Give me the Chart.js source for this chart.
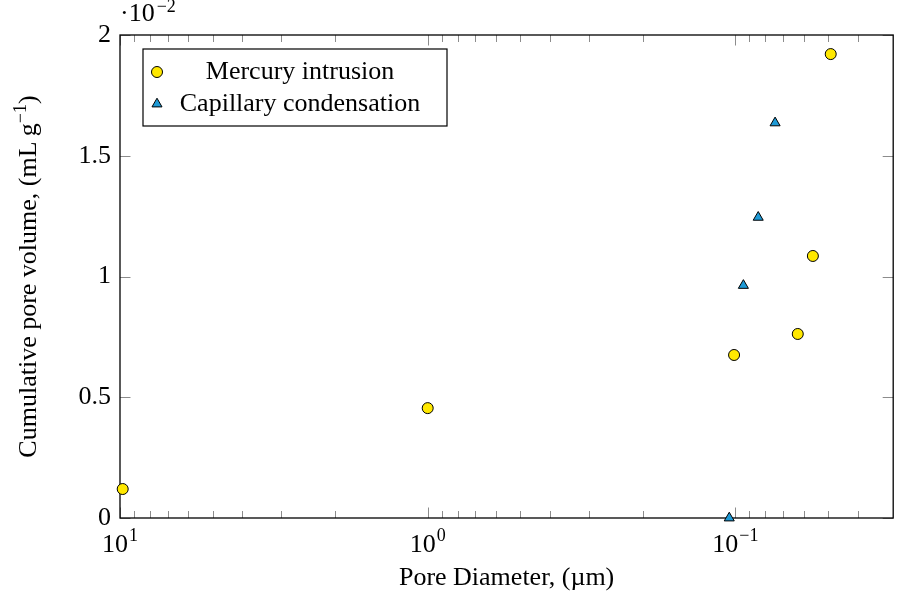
<!DOCTYPE html>
<html>
<head>
<meta charset="utf-8">
<script src="https://cdn.jsdelivr.net/npm/chart.js@4.4.0/dist/chart.umd.min.js"></script>
<style>
  body { margin: 0; background: #fff; }
  #wrap { width: 900px; height: 599px; }
</style>
</head>
<body>
<div id="wrap"><canvas id="myChart"></canvas></div>
<script>
// pore diameter in µm, cumulative pore volume in units of 1e-2 mL/g
const mercuryDiameter = [9.8, 1.0, 0.101, 0.0627, 0.056, 0.049];
const mercuryVolume = [0.12, 0.455, 0.675, 0.762, 1.085, 1.921];
const capillaryDiameter = [0.1047, 0.0942, 0.0843, 0.0743];
const capillaryVolume = [0.0, 0.963, 1.245, 1.636];

const xMajorTicks = [10, 1, 0.1];            // shown as 10^1, 10^0, 10^-1
const xMajorExponents = ['1', '0', '\u22121'];
const yTicks = [0, 0.5, 1, 1.5, 2];
const yScaleNote = '\u22122';                 // the ·10^-2 factor
const xTitle = 'Pore Diameter, (\u00b5m)';

const X_MIN = 0.0307, X_MAX = 10;
const FONT = '"Liberation Serif", "Times New Roman", serif';

// minor ticks 2..9 in each decade inside the axis range
const xMinorTicks = [];
[1, 0.1, 0.01].forEach(dec => {
    for (let m = 2; m <= 9; m++) {
        const v = m * dec;
        if (v >= X_MIN && v <= X_MAX) xMinorTicks.push(v);
    }
});

const axisDecor = {
    id: 'axisDecor',
    beforeDatasetsDraw(chart) {
        const {ctx, chartArea: a, scales: {x, y}} = chart;
        ctx.save();
        ctx.strokeStyle = '#8c8c8c';
        ctx.lineWidth = 1;
        const vTick = (v, len) => {
            const px = Math.round(x.getPixelForValue(v)) + 0.5;
            ctx.beginPath();
            ctx.moveTo(px, a.bottom); ctx.lineTo(px, a.bottom - len);
            ctx.moveTo(px, a.top); ctx.lineTo(px, a.top + len);
            ctx.stroke();
        };
        xMinorTicks.forEach(v => vTick(v, 7));
        xMajorTicks.forEach(v => vTick(v, 10.5));
        yTicks.forEach(v => {
            const py = Math.round(y.getPixelForValue(v)) + 0.5;
            ctx.beginPath();
            ctx.moveTo(a.left, py); ctx.lineTo(a.left + 10.5, py);
            ctx.moveTo(a.right, py); ctx.lineTo(a.right - 10.5, py);
            ctx.stroke();
        });
        // axis frame
        ctx.strokeStyle = '#000';
        ctx.lineWidth = 1.3;
        ctx.strokeRect(a.left, a.top, a.right - a.left, a.bottom - a.top);
        ctx.restore();
    },
    afterDraw(chart) {
        const {ctx, chartArea: a, scales: {x}} = chart;
        ctx.save();
        ctx.fillStyle = '#000';
        ctx.textBaseline = 'alphabetic';
        ctx.textAlign = 'left';

        // x tick labels 10^n
        xMajorTicks.forEach((v, i) => {
            const px = x.getPixelForValue(v);
            ctx.font = '26px ' + FONT;
            const wb = ctx.measureText('10').width;
            ctx.font = '18px ' + FONT;
            const ws = ctx.measureText(xMajorExponents[i]).width;
            const x0 = px - (wb + ws + 1) / 2;
            ctx.font = '26px ' + FONT;
            ctx.fillText('10', x0, a.bottom + 34);
            ctx.font = '18px ' + FONT;
            ctx.fillText(xMajorExponents[i], x0 + wb + 1, a.bottom + 23);
        });

        // x axis title
        ctx.font = '26px ' + FONT;
        ctx.textAlign = 'center';
        ctx.fillText(xTitle, (a.left + a.right) / 2, a.bottom + 67);
        ctx.textAlign = 'left';

        // scale factor above the y axis
        ctx.font = '26px ' + FONT;
        ctx.fillText('\u00b710', a.left, a.top - 14);
        const wn = ctx.measureText('\u00b710').width;
        ctx.font = '18px ' + FONT;
        ctx.fillText(yScaleNote, a.left + wn + 2, a.top - 23);

        // y axis title with superscript
        const t1 = 'Cumulative pore volume, (mL\u2009g', t2 = '\u22121', t3 = ')';
        ctx.font = '26px ' + FONT;
        const w1 = ctx.measureText(t1).width, w3 = ctx.measureText(t3).width;
        ctx.font = '18px ' + FONT;
        const w2 = ctx.measureText(t2).width;
        ctx.translate(36, (a.top + a.bottom) / 2);
        ctx.rotate(-Math.PI / 2);
        let tx = -(w1 + w2 + w3) / 2;
        ctx.font = '26px ' + FONT;
        ctx.fillText(t1, tx, 0);
        tx += w1;
        ctx.font = '18px ' + FONT;
        ctx.fillText(t2, tx, -10);
        tx += w2;
        ctx.font = '26px ' + FONT;
        ctx.fillText(t3, tx, 0);
        ctx.setTransform(1, 0, 0, 1, 0, 0);

        // legend box in the upper left corner
        const lx = a.left + 23, ly = a.top + 14, lw = 304, lh = 77;
        ctx.fillStyle = '#fff';
        ctx.fillRect(lx, ly, lw, lh);
        ctx.strokeStyle = '#000';
        ctx.lineWidth = 1.2;
        ctx.strokeRect(lx, ly, lw, lh);
        chart.data.datasets.forEach((ds, i) => {
            const my = ly + 23 + i * 32;
            ctx.fillStyle = ds.backgroundColor;
            ctx.strokeStyle = ds.borderColor;
            ctx.lineWidth = ds.borderWidth;
            Chart.helpers.drawPoint(ctx, {
                pointStyle: ds.pointStyle, radius: ds.pointRadius,
                rotation: 0, borderWidth: ds.borderWidth
            }, lx + 14, my);
            ctx.fillStyle = '#000';
            ctx.font = '26px ' + FONT;
            ctx.textAlign = 'center';
            ctx.fillText(ds.label, lx + 157, my + 7);
        });
        ctx.restore();
    }
};

const ctx = document.getElementById('myChart');
const myChart = new Chart(ctx, {
    type: 'scatter',
    data: {
        datasets: [{
            label: 'Mercury intrusion',
            data: mercuryDiameter.map((d, i) => ({x: d, y: mercuryVolume[i]})),
            pointStyle: 'circle',
            pointRadius: 5.5,
            backgroundColor: '#ffe800',
            borderColor: '#000',
            borderWidth: 1,
            clip: false
        },
        {
            label: 'Capillary condensation',
            data: capillaryDiameter.map((d, i) => ({x: d, y: capillaryVolume[i]})),
            pointStyle: 'triangle',
            pointRadius: 5.8,
            backgroundColor: '#1e9ad6',
            borderColor: '#000',
            borderWidth: 1,
            clip: false
        }]
    },
    options: {
        responsive: true,
        maintainAspectRatio: false,
        animation: false,
        layout: { padding: { top: 35, right: 1, left: 0, bottom: 0 } },
        scales: {
            x: {
                type: 'logarithmic',
                reverse: true,
                min: X_MIN,
                max: X_MAX,
                grid: { display: false },
                border: { display: false },
                ticks: { display: false },
                afterFit(scale) { scale.height = 81; }
            },
            y: {
                min: 0,
                max: 2,
                afterBuildTicks(scale) { scale.ticks = yTicks.map(v => ({value: v})); },
                grid: { display: false, drawTicks: false },
                border: { display: false },
                ticks: {
                    padding: 9,
                    color: '#000',
                    font: { family: FONT, size: 26 },
                    callback: v => String(v)
                },
                afterFit(scale) { scale.width = 120; }
            }
        },
        plugins: {
            legend: { display: false },
            tooltip: { enabled: false }
        }
    },
    plugins: [axisDecor]
});
</script>
</body>
</html>
